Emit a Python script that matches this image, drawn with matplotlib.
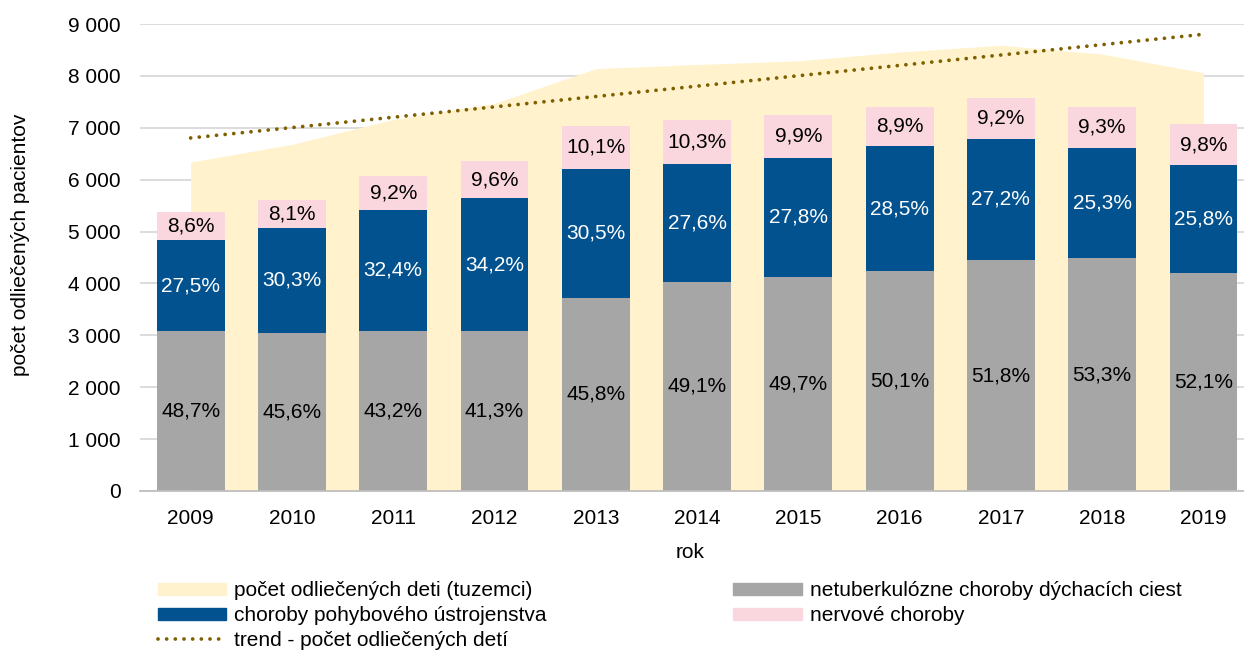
import numpy as np
import matplotlib.pyplot as plt
from matplotlib.lines import Line2D
from matplotlib.patches import Patch

plt.rcParams['font.family'] = ['Liberation Sans', 'DejaVu Sans']

## data
roky = ['2009', '2010', '2011', '2012', '2013', '2014', '2015', '2016', '2017', '2018', '2019']
pocet_deti = [6340, 6680, 7160, 7470, 8140, 8220, 8290, 8460, 8590, 8420, 8060]  # pocet odliecenych deti (tuzemci)
pct_dychacie = [48.7, 45.6, 43.2, 41.3, 45.8, 49.1, 49.7, 50.1, 51.8, 53.3, 52.1]
pct_pohybove = [27.5, 30.3, 32.4, 34.2, 30.5, 27.6, 27.8, 28.5, 27.2, 25.3, 25.8]
pct_nervove = [8.6, 8.1, 9.2, 9.6, 10.1, 10.3, 9.9, 8.9, 9.2, 9.3, 9.8]

c_area = '#FFF2CC'
c_grey = '#A6A6A6'
c_blue = '#02528F'
c_pink = '#FAD7DE'
c_trend = '#7F6000'

x = np.arange(len(roky))
tot = np.array(pocet_deti, dtype=float)
dych = tot * np.array(pct_dychacie) / 100
pohyb = tot * np.array(pct_pohybove) / 100
nerv = tot * np.array(pct_nervove) / 100

W, H = 1244, 652
fig = plt.figure(figsize=(W / 100, H / 100), dpi=100)
ax = fig.add_axes([140 / W, 161 / H, 1 - 140 / W, 467 / H])

ax.fill_between(x, 0, tot, color=c_area, linewidth=0, zorder=1)

w = 0.67
ax.bar(x, dych, w, color=c_grey, zorder=2)
ax.bar(x, pohyb, w, bottom=dych, color=c_blue, zorder=2)
ax.bar(x, nerv, w, bottom=dych + pohyb, color=c_pink, zorder=2)

# linearny trend
k, q = np.polyfit(x, tot, 1)
dots = (0, (0.01, 2.3))
ax.plot(x, k * x + q, linestyle=dots, dash_capstyle='round', color=c_trend,
        linewidth=2.7, zorder=3)

fs = 15
fmt = lambda v: ('%.1f%%' % v).replace('.', ',')
for i in range(len(x)):
    ax.text(x[i], dych[i] / 2, fmt(pct_dychacie[i]),
            ha='center', va='center', fontsize=fs, color='black', zorder=4)
    ax.text(x[i], dych[i] + pohyb[i] / 2, fmt(pct_pohybove[i]),
            ha='center', va='center', fontsize=fs, color='white', zorder=4)
    ax.text(x[i], dych[i] + pohyb[i] + nerv[i] / 2, fmt(pct_nervove[i]),
            ha='center', va='center', fontsize=fs, color='black', zorder=4)

ax.set_xlim(-0.5, 10.4)
ax.set_ylim(0, 9000)
ax.set_yticks(range(0, 9001, 1000))
ax.set_yticklabels([('{:,}'.format(v)).replace(',', ' ') for v in range(0, 9001, 1000)])
ax.set_xticks(x)
ax.set_xticklabels(roky)
ax.tick_params(axis='both', length=0, labelsize=15, colors='black')
ax.tick_params(axis='x', pad=13)
ax.tick_params(axis='y', pad=14)
ax.grid(axis='y', color='#D9D9D9', linewidth=1.3, zorder=0)
ax.set_axisbelow(True)
for s in ['top', 'right', 'left']:
    ax.spines[s].set_visible(False)
ax.spines['bottom'].set_color('#BFBFBF')
ax.spines['bottom'].set_linewidth(1.3)
ax.spines['bottom'].set_zorder(5)

fig.text(690 / W, 1 - 553 / H, 'rok', fontsize=15, ha='center', va='center')
fig.text(21 / W, 1 - 245 / H, 'počet odliečených pacientov', fontsize=15,
         rotation=90, ha='center', va='center')

handles = [Patch(color=c_area), Patch(color=c_blue),
           Line2D([0], [0], linestyle=dots, dash_capstyle='round', color=c_trend, linewidth=2.7),
           Patch(color=c_grey), Patch(color=c_pink)]
labels = ['počet odliečených deti (tuzemci)', 'choroby pohybového ústrojenstva',
          'trend - počet odliečených detí', 'netuberkulózne choroby dýchacích ciest',
          'nervové choroby']
fig.legend(handles, labels, ncol=2, loc='upper left', bbox_to_anchor=(158 / W, 1 - 581 / H),
           frameon=False, fontsize=15, handlelength=3.27, handleheight=0.5,
           handletextpad=0.4, columnspacing=8.95, labelspacing=0.29, borderaxespad=0,
           borderpad=0)

fig.savefig('out.png', dpi=100)
